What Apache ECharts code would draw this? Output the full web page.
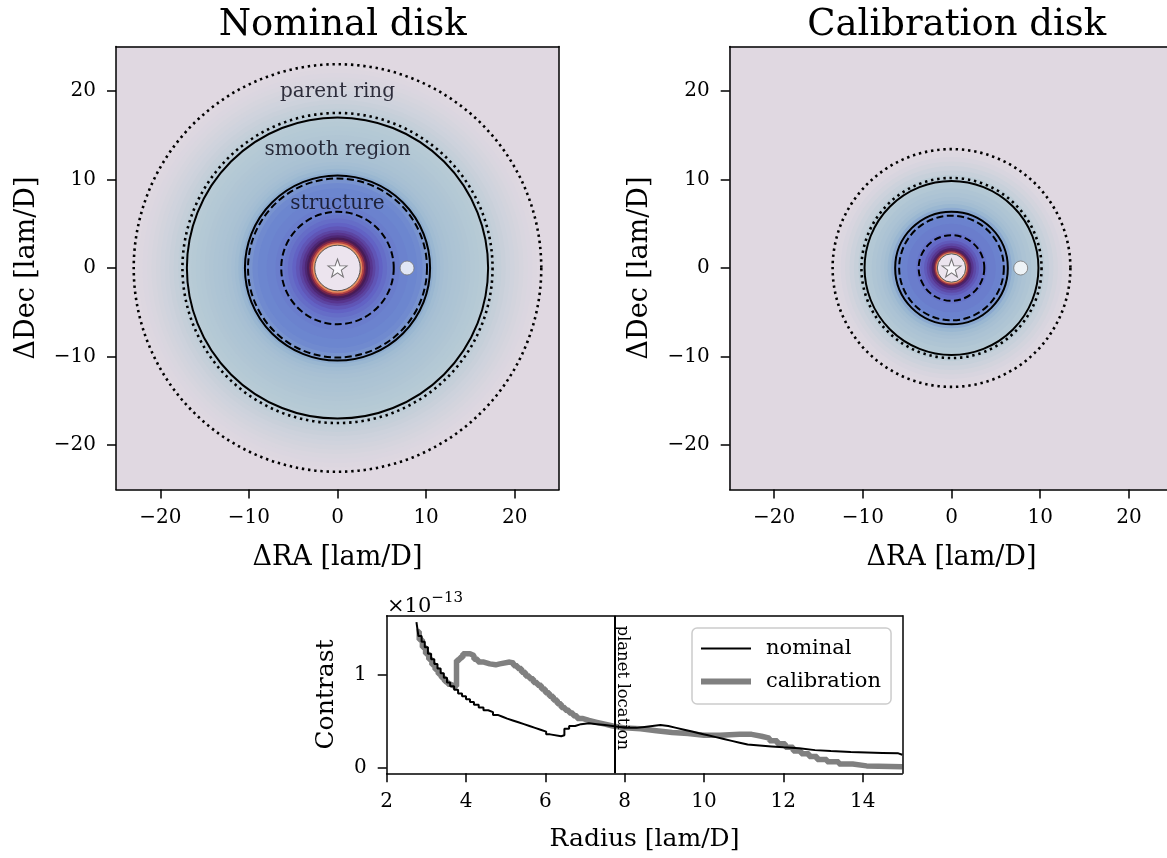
<!DOCTYPE html>
<html><head><meta charset="utf-8">
<script src="https://cdn.jsdelivr.net/npm/echarts@6/dist/echarts.min.js"></script>
<style>html,body{margin:0;padding:0;background:#fff}#c{width:1167px;height:858px}</style>
</head><body><div id="c"></div>
<script>
// ---------------- DATA ----------------
const diskTicks = [-20, -10, 0, 10, 20];
const radiusTicks = [2, 4, 6, 8, 10, 12, 14];
const contrastTicks = [0, 1];

// radial brightness bands of the two disk images: outer radius [lam/D] and colour value (0..1)
const nominalBandRadius = [2.57, 2.8, 3.0, 3.2, 3.45, 3.7, 4.0, 4.3, 4.7, 5.1, 5.6, 6.0, 7.0, 8.0, 9.0, 9.6, 10.0, 10.45, 10.8, 11.2, 11.6, 12.0, 12.5, 13.0, 13.5, 14.0, 14.5, 15.0, 15.5, 16.0, 16.5, 17.0, 17.5, 18.0, 18.5, 19.0, 19.5, 20.0, 20.5, 21.0, 21.5, 22.0, 22.5, 23.0, 40];
const nominalBandValue  = [1.0, 0.88, 0.78, 0.69, 0.61, 0.555, 0.51, 0.47, 0.43, 0.4, 0.37, 0.345, 0.325, 0.31, 0.3, 0.29, 0.27, 0.25, 0.21, 0.18, 0.16, 0.15, 0.14, 0.135, 0.13, 0.125, 0.12, 0.115, 0.11, 0.105, 0.1, 0.095, 0.085, 0.075, 0.065, 0.055, 0.045, 0.037, 0.03, 0.023, 0.017, 0.012, 0.007, 0.003, 0];
const calibBandRadius = [1.6, 1.75, 1.9, 2.05, 2.25, 2.5, 2.8, 3.1, 3.5, 4.0, 5.0, 5.6, 6.0, 6.4, 6.8, 7.2, 7.6, 8.0, 8.5, 9.0, 9.5, 10.0, 10.5, 11.0, 11.5, 12.0, 12.5, 13.0, 13.5, 40];
const calibBandValue  = [1.0, 0.88, 0.76, 0.65, 0.57, 0.51, 0.46, 0.42, 0.38, 0.35, 0.325, 0.31, 0.3, 0.27, 0.22, 0.18, 0.155, 0.14, 0.13, 0.12, 0.11, 0.1, 0.08, 0.06, 0.045, 0.03, 0.018, 0.009, 0.003, 0];

// annotation circles (radius, lam/D)
const nominalDotted = [23.0, 17.5];
const nominalSolid  = [17.0, 10.45];
const nominalDashed = [10.1, 6.35];
const nominalMask   = [2.57];
const calibDotted = [13.4, 10.15];
const calibSolid  = [9.8, 6.35];
const calibDashed = [5.9, 3.7];
const calibMask   = [1.6];
const starPos = [[0, 0]];
const nominalPlanet = [[7.85, 0]];
const calibPlanet = [[7.8, 0]];
const regionLabels = ['parent ring', 'smooth region', 'structure'];
const regionLabelY = [19.9, 13.3, 7.3];

// contrast curves (×1e-13)
const nominalR = [2.75, 2.80, 2.88, 2.96, 3.04, 3.12, 3.20, 3.28, 3.36, 3.44, 3.52, 3.60, 3.70, 3.80, 3.90, 4.00, 4.10, 4.20, 4.32, 4.44, 4.56, 4.68, 4.80, 4.92, 5.04, 5.18, 5.32, 5.46, 5.60, 5.74, 5.88, 6.02, 6.12, 6.40, 6.48, 6.60, 6.75, 6.90, 7.10, 7.30, 7.50, 7.70, 8.00, 8.30, 8.50, 8.90, 9.10, 9.30, 9.50, 9.70, 9.90, 10.10, 10.30, 10.50, 10.70, 10.90, 11.10, 11.40, 11.70, 12.00, 12.40, 12.80, 13.20, 13.70, 14.50, 14.90, 15.00];
const nominalC = [1.57, 1.42, 1.36, 1.30, 1.23, 1.17, 1.12, 1.07, 1.02, 0.97, 0.92, 0.88, 0.84, 0.80, 0.77, 0.74, 0.71, 0.68, 0.65, 0.62, 0.60, 0.57, 0.55, 0.53, 0.51, 0.49, 0.47, 0.45, 0.43, 0.41, 0.39, 0.36, 0.34, 0.35, 0.42, 0.45, 0.47, 0.48, 0.47, 0.46, 0.45, 0.43, 0.43, 0.44, 0.46, 0.45, 0.43, 0.41, 0.39, 0.37, 0.35, 0.33, 0.31, 0.29, 0.27, 0.25, 0.24, 0.23, 0.22, 0.21, 0.19, 0.18, 0.17, 0.16, 0.155, 0.14, 0.14];
const calibR = [2.75, 2.82, 2.90, 2.98, 3.06, 3.14, 3.22, 3.30, 3.38, 3.46, 3.54, 3.62, 3.70, 3.76, 3.84, 3.92, 4.10, 4.20, 4.30, 4.45, 4.60, 4.75, 4.85, 5.10, 5.20, 5.30, 5.40, 5.50, 5.60, 5.70, 5.80, 5.90, 6.00, 6.10, 6.20, 6.30, 6.40, 6.50, 6.60, 6.70, 6.80, 6.95, 7.10, 7.30, 7.50, 7.70, 8.00, 8.40, 8.80, 9.20, 9.60, 10.00, 10.40, 10.90, 11.20, 11.45, 11.65, 11.85, 12.05, 12.25, 12.45, 12.65, 12.85, 13.10, 13.40, 13.75, 14.10, 15.00];
const calibC = [1.47, 1.38, 1.30, 1.23, 1.17, 1.11, 1.06, 1.01, 0.97, 0.93, 0.90, 0.88, 0.88, 1.16, 1.19, 1.23, 1.21, 1.17, 1.14, 1.12, 1.11, 1.12, 1.14, 1.13, 1.10, 1.07, 1.03, 0.99, 0.96, 0.92, 0.89, 0.85, 0.81, 0.77, 0.73, 0.69, 0.65, 0.62, 0.59, 0.56, 0.53, 0.51, 0.49, 0.47, 0.45, 0.43, 0.42, 0.40, 0.38, 0.37, 0.35, 0.35, 0.36, 0.36, 0.34, 0.32, 0.29, 0.26, 0.22, 0.18, 0.15, 0.12, 0.09, 0.065, 0.04, 0.02, 0.01, 0.01];
const planetLocation = 7.75;

// ---------------- CHART ----------------
const FONT = 'DejaVu Serif';
const cmap = ['#e0d8e1', '#b6cad5', '#93b2d0', '#6c86cf', '#6262c4', '#5a3894', '#421a58', '#7c2648', '#c44c40', '#f0a068', '#ece4ee'];
function fmt(v) { return v < 0 ? '\u2212' + Math.abs(v) : String(v); }

function mainX(g, ticks, min, max, name, gap) {
  return { type: 'value', gridIndex: g, position: 'bottom', min, max, z: 10,
    axisLine: { show: true, onZero: false, lineStyle: { color: '#000', width: 1.5 } },
    axisTick: { show: true, length: 9, customValues: ticks, lineStyle: { color: '#000', width: 1.5 } },
    axisLabel: { show: true, customValues: ticks, formatter: fmt, margin: 18, color: '#000', fontFamily: FONT, fontSize: 20 },
    splitLine: { show: false },
    name, nameLocation: 'middle', nameGap: gap, nameTextStyle: { fontFamily: FONT, fontSize: g === 2 ? 25 : 27, color: '#000' } };
}
function mainY(g, ticks, min, max, name, gap) {
  return { type: 'value', gridIndex: g, position: 'left', min, max, z: 10,
    axisLine: { show: true, onZero: false, lineStyle: { color: '#000', width: 1.5 } },
    axisTick: { show: true, length: 9, customValues: ticks, lineStyle: { color: '#000', width: 1.5 } },
    axisLabel: { show: true, customValues: ticks, formatter: fmt, margin: 20, color: '#000', fontFamily: FONT, fontSize: 20 },
    splitLine: { show: false },
    name, nameLocation: 'middle', nameGap: gap, nameTextStyle: { fontFamily: FONT, fontSize: g === 2 ? 25 : 27, color: '#000' } };
}
function frame(g, pos, min, max) {
  return { type: 'value', gridIndex: g, position: pos, min, max, z: 10,
    axisLine: { show: true, onZero: false, lineStyle: { color: '#000', width: 1.5 } },
    axisTick: { show: false }, axisLabel: { show: false }, splitLine: { show: false } };
}

function diskSeries(radii, values, ai) {
  const data = radii.map((r, i) => [r, values[i]]).reverse();
  return { type: 'custom', coordinateSystem: 'cartesian2d', xAxisIndex: ai, yAxisIndex: ai, clip: true, silent: true, z: 1,
    data,
    renderItem(params, api) {
      const c = api.coord([0, 0]);
      const r = api.size([api.value(0), 0])[0];
      return { type: 'circle', z2: params.dataIndex, shape: { cx: c[0], cy: c[1], r }, style: { fill: api.visual('color') } };
    } };
}
function ringSeries(radii, ai, style) {
  return { type: 'custom', coordinateSystem: 'cartesian2d', xAxisIndex: ai, yAxisIndex: ai, clip: true, silent: true, z: 5,
    data: radii.map(r => [r, 0]),
    renderItem(params, api) {
      const c = api.coord([0, 0]);
      const r = api.size([api.value(0), 0])[0];
      return { type: 'circle', shape: { cx: c[0], cy: c[1], r }, style: Object.assign({ fill: null }, style) };
    } };
}
const dotted = { stroke: '#000', lineWidth: 2.6, lineDash: [2.4, 3.8] };
const solid = { stroke: '#000', lineWidth: 2 };
const dashed = { stroke: '#000', lineWidth: 2, lineDash: [7, 3.5] };
const maskLine = { stroke: '#555', lineWidth: 1 };
const starPath = 'path://M0,-10 L2.35,-3.24 L9.51,-3.09 L3.8,1.24 L5.88,8.09 L0,4 L-5.88,8.09 L-3.8,1.24 L-9.51,-3.09 L-2.35,-3.24 Z';

function starSeries(ai) {
  return { type: 'scatter', xAxisIndex: ai, yAxisIndex: ai, z: 6, silent: true, data: starPos,
    symbol: starPath, symbolSize: [19, 18], itemStyle: { color: '#fdfbfe', borderColor: '#555', borderWidth: 1 } };
}
function planetSeries(ai, pts) {
  return { type: 'scatter', xAxisIndex: ai, yAxisIndex: ai, z: 6, silent: true, data: pts,
    symbol: 'circle', symbolSize: 14, itemStyle: { color: '#fff', borderColor: '#777', borderWidth: 1 } };
}

const series = [
  diskSeries(nominalBandRadius, nominalBandValue, 0),
  diskSeries(calibBandRadius, calibBandValue, 2),
  ringSeries(nominalDotted, 0, dotted),
  ringSeries(nominalSolid, 0, solid),
  ringSeries(nominalDashed, 0, dashed),
  ringSeries(nominalMask, 0, maskLine),
  ringSeries(calibDotted, 2, dotted),
  ringSeries(calibSolid, 2, solid),
  ringSeries(calibDashed, 2, dashed),
  ringSeries(calibMask, 2, maskLine),
  starSeries(0), starSeries(2),
  planetSeries(0, nominalPlanet), planetSeries(2, calibPlanet),
  { type: 'custom', coordinateSystem: 'cartesian2d', xAxisIndex: 0, yAxisIndex: 0, z: 7, silent: true,
    data: regionLabelY.map(y => [0, y]),
    renderItem(params, api) {
      const p = api.coord([api.value(0), api.value(1)]);
      return { type: 'text', x: p[0], y: p[1], style: { text: regionLabels[params.dataIndex], fontFamily: FONT, fontSize: 20, fill: 'rgba(15,15,30,0.85)', align: 'center', verticalAlign: 'middle' } };
    } },
  { name: 'calibration', type: 'line', xAxisIndex: 4, yAxisIndex: 4, step: 'end', symbol: 'none', z: 3, silent: true,
    data: calibR.map((r, i) => [r, calibC[i]]),
    lineStyle: { color: '#808080', width: 5.5 },
    markLine: { silent: true, symbol: ['none', 'none'], label: { show: false }, lineStyle: { color: '#000', width: 2, type: 'solid' }, data: [{ xAxis: planetLocation }] } },
  { name: 'nominal', type: 'line', xAxisIndex: 4, yAxisIndex: 4, step: 'end', symbol: 'none', z: 4, silent: true,
    data: nominalR.map((r, i) => [r, nominalC[i]]),
    lineStyle: { color: '#000', width: 2 } },
  { type: 'custom', coordinateSystem: 'cartesian2d', xAxisIndex: 4, yAxisIndex: 4, z: 7, silent: true,
    data: [[planetLocation, 1.535]],
    renderItem(params, api) {
      const p = api.coord([api.value(0), api.value(1)]);
      return { type: 'text', x: p[0] + 8, y: p[1], rotation: -Math.PI / 2, style: { text: 'planet location', fontFamily: FONT, fontSize: 16.5, fill: '#000', align: 'left', verticalAlign: 'middle' } };
    } }
];

const option = {
  animation: false,
  backgroundColor: '#fff',
  title: [
    { text: 'Nominal disk', left: 337.7, top: 2, textAlign: 'center', textStyle: { fontFamily: FONT, fontSize: 37, fontWeight: 'normal', color: '#000' } },
    { text: 'Calibration disk', left: 951.7, top: 2, textAlign: 'center', textStyle: { fontFamily: FONT, fontSize: 37, fontWeight: 'normal', color: '#000' } },
    { text: '{a|\u00d710}{b|\u221213}', left: 382, top: 586, textStyle: { fontWeight: 'normal', rich: {
      a: { fontFamily: FONT, fontSize: 21, fontWeight: 'normal', color: '#000', lineHeight: 26, verticalAlign: 'bottom' },
      b: { fontFamily: FONT, fontSize: 15, fontWeight: 'normal', color: '#000', lineHeight: 26, verticalAlign: 'top' } } } }
  ],
  grid: [
    { left: 116, top: 46.5, width: 443, height: 443, outerBoundsMode: 'none' },
    { left: 729.7, top: 46.5, width: 443.6, height: 443, outerBoundsMode: 'none' },
    { left: 386.7, top: 615.7, width: 515.6, height: 157.6, outerBoundsMode: 'none' }
  ],
  xAxis: [
    mainX(0, diskTicks, -25, 25, '\u0394RA [lam/D]', 55), frame(0, 'top', -25, 25),
    mainX(1, diskTicks, -25, 25, '\u0394RA [lam/D]', 55), frame(1, 'top', -25, 25),
    mainX(2, radiusTicks, 2, 15, 'Radius [lam/D]', 54), frame(2, 'top', 2, 15)
  ],
  yAxis: [
    mainY(0, diskTicks, -25, 25, '\u0394Dec [lam/D]', 76), frame(0, 'right', -25, 25),
    mainY(1, diskTicks, -25, 25, '\u0394Dec [lam/D]', 76), frame(1, 'right', -25, 25),
    mainY(2, contrastTicks, -0.06, 1.64, 'Contrast', 48), frame(2, 'right', -0.06, 1.64)
  ],
  visualMap: { type: 'continuous', show: false, min: 0, max: 1, dimension: 1, seriesIndex: [0, 1], inRange: { color: cmap } },
  legend: {
    orient: 'vertical', left: 692, top: 628, itemWidth: 50, itemHeight: 14, itemGap: 12,
    padding: [10, 10, 12, 6], borderColor: '#cccccc', borderWidth: 1.5, borderRadius: 5, backgroundColor: 'rgba(255,255,255,0.85)',
    textStyle: { fontFamily: FONT, fontSize: 21, color: '#000', lineHeight: 21, padding: [0, 0, 0, 10] },
    data: [
      { name: 'nominal', itemStyle: { opacity: 0 }, lineStyle: { color: '#000', width: 2 } },
      { name: 'calibration', itemStyle: { opacity: 0 }, lineStyle: { color: '#808080', width: 6 } }
    ]
  },
  series
};
const chart = echarts.init(document.getElementById('c'), null, { renderer: 'canvas' });
chart.setOption(option);
</script></body></html>
